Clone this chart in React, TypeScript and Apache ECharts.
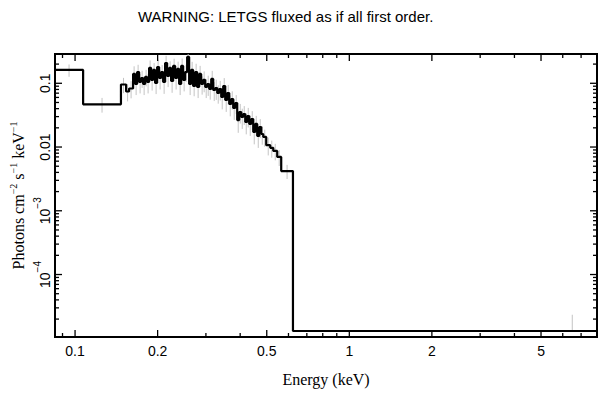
import React, { useEffect, useRef } from 'react';
import * as echarts from 'echarts';

const chartTitle = 'WARNING: LETGS fluxed as if all first order.';
const xAxisTitle = 'Energy (keV)';
const yAxisTitle = '{n|Photons cm}{s|−2}{n| s}{s|−1}{n| keV}{s|−1}';

const X_MIN = 0.0845;
const X_MAX = 8;
const Y_MIN = 1.047e-5;
const Y_MAX = 0.288;

// histogram bin edges (keV)
const binEdges = [
  0.0845, 0.107, 0.147, 0.1535, 0.1574,
  0.1628, 0.1656, 0.1684, 0.1712, 0.1741, 0.1771, 0.1801, 0.1831, 0.1862, 0.1894,
  0.1926, 0.1958, 0.1992, 0.2025, 0.206, 0.2095, 0.213, 0.2166, 0.2203, 0.224,
  0.2278, 0.2317, 0.2356, 0.2396, 0.2437, 0.2478, 0.252, 0.2563, 0.2606, 0.265,
  0.2695, 0.2741, 0.2787, 0.2834, 0.2882, 0.2931, 0.2982, 0.3033, 0.3084, 0.3137,
  0.319, 0.3244, 0.3299, 0.3355, 0.3412, 0.3469, 0.3528, 0.3588, 0.3649, 0.3711,
  0.3773, 0.3837, 0.3902, 0.3968, 0.4036, 0.4104, 0.4174, 0.4244, 0.4316, 0.4389,
  0.4464, 0.4539, 0.4616, 0.4695, 0.4774, 0.4855,
  0.4978, 0.5148, 0.5281, 0.5459, 0.5645, 0.623, 8.0,
];

// flux per bin (photons cm^-2 s^-1 keV^-1)
const binFlux = [
  0.162, 0.0468, 0.0957, 0.0743, 0.0829,
  0.14, 0.0975, 0.15, 0.105, 0.121, 0.0975, 0.126, 0.105, 0.174, 0.113,
  0.162, 0.101, 0.18, 0.121, 0.15, 0.105, 0.208, 0.13, 0.174, 0.109,
  0.187, 0.121, 0.168, 0.0975, 0.187, 0.113, 0.15, 0.259, 0.0975, 0.162,
  0.0907, 0.15, 0.0875, 0.14, 0.0975, 0.113, 0.0875, 0.0975, 0.0814, 0.117,
  0.0785, 0.0844, 0.0704, 0.0814, 0.0609, 0.0907, 0.0547, 0.0704, 0.0473, 0.0567,
  0.041, 0.0491, 0.0265, 0.0354, 0.0296, 0.033, 0.0247, 0.0307, 0.023, 0.0275,
  0.0172, 0.023, 0.0149, 0.0206, 0.016,
  0.0144, 0.0107, 0.0097, 0.0087, 0.007, 0.0042, 1.3e-5,
];

// relative 1-sigma errors per bin
const binRelErr = [
  0.22, 0.26, 0.27, 0.3, 0.3,
  0.32, 0.33, 0.3, 0.34, 0.3, 0.33, 0.29, 0.34, 0.31, 0.32,
  0.28, 0.33, 0.3, 0.34, 0.29, 0.35, 0.3, 0.33, 0.27, 0.35,
  0.3, 0.34, 0.3, 0.33, 0.31, 0.34, 0.3, 0.35, 0.33, 0.34,
  0.31, 0.35, 0.33, 0.34, 0.32, 0.36, 0.33, 0.35, 0.32, 0.34,
  0.33, 0.35, 0.32, 0.34, 0.36, 0.33, 0.35, 0.34, 0.36, 0.32,
  0.35, 0.33, 0.37, 0.34, 0.35, 0.33, 0.36, 0.34, 0.35, 0.33,
  0.36, 0.34, 0.35, 0.33, 0.32,
  0.3, 0.31, 0.3, 0.29, 0.28, 0.25, 0.8,
];
const lastBinErrEnergy = 6.5;

const xMajorTicks = [0.1, 0.2, 0.5, 1, 2, 5];
const xMajorLabels = ['0.1', '0.2', '0.5', '1', '2', '5'];
const xMinorTicks = [0.09, 0.3, 0.4, 0.6, 0.7, 0.8, 0.9, 3, 4, 6, 7];
const yMajorTicks = [0.1, 0.01, 0.001, 0.0001];
const yMajorLabels = ['{n|0.1}', '{n|0.01}', '{n|10}{s|−3}', '{n|10}{s|−4}'];
const yMinorTicks = [
  0.2, 0.09, 0.08, 0.07, 0.06, 0.05, 0.04, 0.03, 0.02,
  0.009, 0.008, 0.007, 0.006, 0.005, 0.004, 0.003, 0.002,
  0.0009, 0.0008, 0.0007, 0.0006, 0.0005, 0.0004, 0.0003, 0.0002,
  0.00009, 0.00008, 0.00007, 0.00006, 0.00005, 0.00004, 0.00003, 0.00002,
];

const MAJOR_LEN = 7;
const MINOR_LEN = 4;
const SANS = '"Liberation Sans", Arial, Helvetica, sans-serif';
const SERIF = '"Liberation Serif", "Times New Roman", serif';

export default function App() {
  const ref = useRef<HTMLDivElement>(null);

  useEffect(() => {
    document.body.style.margin = '0';
    if (!ref.current) return;
    const chart = echarts.init(ref.current, undefined, { renderer: 'svg' });

    const stepData: number[][] = binFlux.map((v, i) => [binEdges[i], v]);
    stepData.push([binEdges[binEdges.length - 1], binFlux[binFlux.length - 1]]);

    const errData = binFlux.map((v, i) => {
      const last = i === binFlux.length - 1;
      const e = last ? lastBinErrEnergy : Math.sqrt(binEdges[i] * binEdges[i + 1]);
      return [e, last ? v : v * (1 - binRelErr[i]), v * (1 + binRelErr[i])];
    });

    const option: any = {
      animation: false,
      backgroundColor: '#fff',
      title: {
        text: chartTitle,
        left: 133,
        top: 4,
        textStyle: { fontFamily: SANS, fontSize: 15, fontWeight: 'normal', color: '#000' },
      },
      grid: {
        left: 55,
        right: 12,
        top: 54,
        bottom: 62,
        containLabel: false,
        outerBoundsMode: 'none',
        show: true,
        borderColor: '#000',
        borderWidth: 2,
        backgroundColor: 'transparent',
      },
      xAxis: {
        type: 'log',
        logBase: 10,
        min: X_MIN,
        max: X_MAX,
        axisLine: { show: false },
        axisTick: { show: false },
        axisLabel: { show: false },
        splitLine: { show: false },
        minorTick: { show: false },
        name: xAxisTitle,
        nameLocation: 'middle',
        nameGap: 34,
        nameTextStyle: { fontFamily: SERIF, fontSize: 16, color: '#000' },
      },
      yAxis: {
        type: 'log',
        logBase: 10,
        min: Y_MIN,
        max: Y_MAX,
        axisLine: { show: false },
        axisTick: { show: false },
        axisLabel: { show: false },
        splitLine: { show: false },
        minorTick: { show: false },
        name: yAxisTitle,
        nameLocation: 'middle',
        nameGap: 29,
        nameTextStyle: {
          color: '#000',
          rich: {
            n: { fontFamily: SERIF, fontSize: 16, lineHeight: 18, verticalAlign: 'bottom', color: '#000' },
            s: { fontFamily: SERIF, fontSize: 10, lineHeight: 10, verticalAlign: 'top', color: '#000' },
          },
        },
      },
      series: [
        {
          type: 'custom',
          name: 'errors',
          clip: true,
          silent: true,
          encode: { x: 0, y: [1, 2] },
          data: errData,
          renderItem: (params: any, api: any) => {
            const x = api.value(0);
            const p1 = api.coord([x, api.value(1)]);
            const p2 = api.coord([x, api.value(2)]);
            return {
              type: 'line',
              shape: { x1: p1[0], y1: p1[1], x2: p2[0], y2: p2[1] },
              style: { stroke: '#c4c4c4', lineWidth: 1 },
            };
          },
        },
        {
          type: 'line',
          name: 'flux',
          step: 'end',
          showSymbol: false,
          symbol: 'none',
          data: stepData,
          lineStyle: { color: '#000', width: 2.2 },
          silent: true,
        },
        {
          type: 'custom',
          name: 'ticks',
          clip: false,
          silent: true,
          data: [[1, 0.001]],
          renderItem: (params: any, api: any) => {
            const bl = api.coord([X_MIN, Y_MIN]);
            const tr = api.coord([X_MAX, Y_MAX]);
            const left = bl[0];
            const bottom = bl[1];
            const right = tr[0];
            const top = tr[1];
            const children: any[] = [];
            const seg = (x1: number, y1: number, x2: number, y2: number) =>
              children.push({
                type: 'line',
                shape: { x1, y1, x2, y2 },
                style: { stroke: '#000', lineWidth: 1.3 },
              });
            xMajorTicks.forEach((e, i) => {
              const x = api.coord([e, Y_MIN])[0];
              seg(x, bottom, x, bottom - MAJOR_LEN);
              seg(x, top, x, top + MAJOR_LEN);
              children.push({
                type: 'text',
                x,
                y: bottom + 14,
                style: {
                  text: xMajorLabels[i],
                  font: `14px ${SANS}`,
                  fill: '#000',
                  align: 'center',
                  verticalAlign: 'middle',
                },
              });
            });
            xMinorTicks.forEach((e) => {
              const x = api.coord([e, Y_MIN])[0];
              seg(x, bottom, x, bottom - MINOR_LEN);
              seg(x, top, x, top + MINOR_LEN);
            });
            yMajorTicks.forEach((v, i) => {
              const y = api.coord([X_MIN, v])[1];
              seg(left, y, left + MAJOR_LEN, y);
              seg(right, y, right - MAJOR_LEN, y);
              children.push({
                type: 'text',
                x: left - 13,
                y,
                rotation: Math.PI / 2,
                style: {
                  text: yMajorLabels[i],
                  fill: '#000',
                  align: 'center',
                  verticalAlign: 'middle',
                  rich: {
                    n: { fontFamily: SANS, fontSize: 14, lineHeight: 20, verticalAlign: 'bottom', fill: '#000' },
                    s: { fontFamily: SANS, fontSize: 10, lineHeight: 10, verticalAlign: 'top', fill: '#000' },
                  },
                },
              });
            });
            yMinorTicks.forEach((v) => {
              const y = api.coord([X_MIN, v])[1];
              seg(left, y, left + MINOR_LEN, y);
              seg(right, y, right - MINOR_LEN, y);
            });
            return { type: 'group', children };
          },
        },
      ],
    };

    chart.setOption(option);
    return () => chart.dispose();
  }, []);

  return (
    <div
      ref={ref}
      style={{ position: 'fixed', left: 0, top: 0, width: 609, height: 399, background: '#fff' }}
    />
  );
}
